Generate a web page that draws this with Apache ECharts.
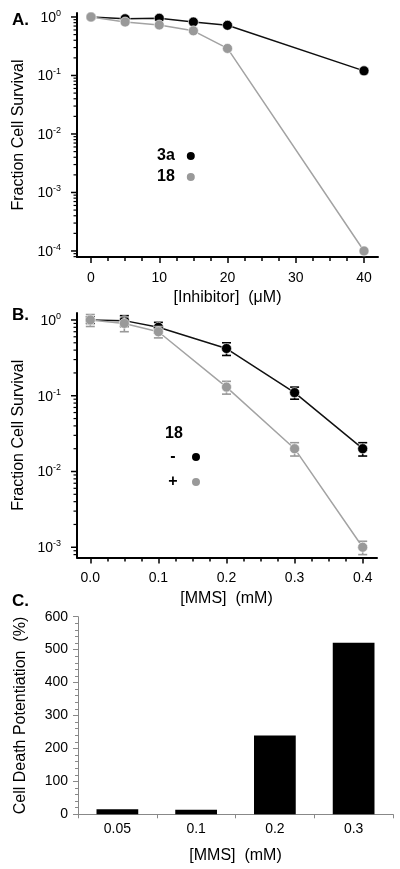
<!DOCTYPE html>
<html>
<head>
<meta charset="utf-8">
<script src="https://cdn.jsdelivr.net/npm/echarts@6/dist/echarts.min.js"></script>
<style>
html,body{margin:0;padding:0;background:#fff;}
#chart{width:400px;height:869px;}
</style>
</head>
<body>
<div id="chart"></div>
<script>
// ---------- data ----------
const inhibitorConc = [0, 5, 10, 15, 20, 40];
const survival3a   = [1.0, 0.93, 0.95, 0.82, 0.72, 0.12];
const survival18   = [1.0, 0.82, 0.73, 0.58, 0.29, 0.0001];

const mmsConc       = [0, 0.05, 0.1, 0.2, 0.3, 0.4];
const survivalMinus = [1.0, 0.98, 0.80, 0.42, 0.11, 0.020];
const errMinus      = [0.10, 0.16, 0.13, 0.08, 0.02, 0.004];
const survivalPlus  = [1.0, 0.90, 0.70, 0.13, 0.020, 0.0010];
const errPlus       = [0.18, 0.20, 0.12, 0.025, 0.004, 0.0002];

const mmsDoses      = ['0.05', '0.1', '0.2', '0.3'];
const potentiation  = [15, 14, 239, 521];

// log-axis decades (tick marks at 1..9 x 10^n)
const decadesA = [-5, -4, -3, -2, -1, 0];
const decadesB = [-4, -3, -2, -1, 0];
// axis extents (a little beyond the first/last decade, as in the figure)
const yRangeA = [Math.pow(10, -4.103), Math.pow(10, 0.068)];
const yRangeB = [Math.pow(10, -3.135), Math.pow(10, 0.092)];

// ---------- helpers ----------
const FONT = 'Liberation Sans, Arial, Helvetica, sans-serif';
const BLACK = '#000000';
const GRAY = '#999999';
const GRAY_LINE = '#a3a3a3';

function zip(xs, ys) { return xs.map((x, i) => [x, ys[i]]); }
function errRows(xs, ys, es) { return xs.map((x, i) => [x, ys[i] - es[i], ys[i] + es[i]]); }
function isPow10(v) { const e = Math.log10(v); return Math.abs(e - Math.round(e)) < 1e-6; }
function logTicks(decades, range) {
  const out = [];
  decades.forEach(d => { for (let m = 1; m <= 9; m++) { const v = m * Math.pow(10, d); if (v >= range[0] && v <= range[1]) out.push([0, v]); } });
  return out;
}

function logLabel(v) {
  if (!isPow10(v)) return '';
  const e = Math.round(Math.log10(v));
  return '{b|10}{s|' + e + '}';
}
const logRich = {
  b: { fontSize: 14, fontFamily: FONT, color: BLACK, lineHeight: 16, verticalAlign: 'bottom' },
  s: { fontSize: 9, fontFamily: FONT, color: BLACK, lineHeight: 10, verticalAlign: 'top' }
};

function tickRender(params, api) {
  const v = api.value(1);
  const p = api.coord([api.value(0), v]);
  const major = isPow10(v);
  const len = major ? 6 : 3.5;
  return { type: 'line', shape: { x1: p[0] - len, y1: p[1], x2: p[0], y2: p[1] },
           style: { stroke: BLACK, lineWidth: major ? 1.5 : 1.2 } };
}

function errRender(params, api) {
  const x = api.value(0), lo = api.value(1), hi = api.value(2);
  const t = api.coord([x, hi]);
  const b = api.coord([x, lo]);
  const hw = 4.5;
  const style = { stroke: api.visual('color'), lineWidth: 1.6 };
  return {
    type: 'group',
    children: [
      { type: 'line', shape: { x1: t[0], y1: t[1], x2: b[0], y2: b[1] }, style: style },
      { type: 'line', shape: { x1: t[0] - hw, y1: t[1], x2: t[0] + hw, y2: t[1] }, style: style },
      { type: 'line', shape: { x1: b[0] - hw, y1: b[1], x2: b[0] + hw, y2: b[1] }, style: style }
    ]
  };
}

const tickStyle = { color: BLACK, width: 1.5 };
const nameStyle = { fontSize: 16, fontFamily: FONT, color: BLACK };
const lineAx = { show: true, lineStyle: { color: BLACK, width: 2 } };

function frameX(gi) {
  return { gridIndex: gi, type: 'value', min: 0, max: 1, axisLine: lineAx,
           axisTick: { show: false }, axisLabel: { show: false }, splitLine: { show: false } };
}
function frameLogY(gi, range) {
  return {
    gridIndex: gi, type: 'log', logBase: 10, min: range[0], max: range[1],
    axisLine: lineAx, axisTick: { show: false }, minorTick: { show: false },
    axisLabel: { formatter: logLabel, rich: logRich, margin: 16, showMinLabel: true, showMaxLabel: true },
    splitLine: { show: false },
    name: 'Fraction Cell Survival', nameLocation: 'middle', nameGap: 48, nameTextStyle: nameStyle
  };
}
function hiddenLogY(gi, range) {
  return { gridIndex: gi, type: 'log', logBase: 10, min: range[0], max: range[1], show: false, splitLine: { show: false } };
}

const option = {
  animation: false,
  backgroundColor: '#fff',
  textStyle: { fontFamily: FONT },
  title: [
    { text: 'A.', left: 7, top: 7, textStyle: { fontSize: 17, fontWeight: 'bold', fontFamily: FONT, color: BLACK } },
    { text: 'B.', left: 7, top: 302, textStyle: { fontSize: 17, fontWeight: 'bold', fontFamily: FONT, color: BLACK } },
    { text: 'C.', left: 7, top: 588, textStyle: { fontSize: 17, fontWeight: 'bold', fontFamily: FONT, color: BLACK } },
    { text: '18', left: 160, top: 421, textStyle: { fontSize: 16, fontWeight: 'bold', fontFamily: FONT, color: BLACK } }
  ],
  legend: [
    {
      data: ['3a', '18'], orient: 'vertical', align: 'right', left: 152, top: 143,
      icon: 'circle', itemWidth: 10, itemHeight: 10, itemGap: 5, selectedMode: false,
      textStyle: { fontSize: 16, fontWeight: 'bold', fontFamily: FONT, color: BLACK, lineHeight: 16, padding: [0, 6, 0, 0] }
    },
    {
      data: ['-', '+'], orient: 'vertical', align: 'right', left: 161, top: 444,
      icon: 'circle', itemWidth: 10, itemHeight: 10, itemGap: 9, selectedMode: false,
      formatter: '{t|{name}}',
      textStyle: {
        fontSize: 16, fontWeight: 'bold', fontFamily: FONT, color: BLACK, lineHeight: 16,
        rich: { t: { width: 14, align: 'center', fontSize: 16, fontWeight: 'bold', fontFamily: FONT, color: BLACK, padding: [0, 6, 0, 0] } }
      }
    }
  ],
  grid: [
    { left: 77, top: 13, width: 301, height: 244 },        // 0 frame A
    { left: 91, top: 13, width: 273, height: 244 },        // 1 data A
    { left: 77, top: 313, width: 300, height: 244.5 },     // 2 frame B
    { left: 90.3, top: 313, width: 272.4, height: 244.5 }, // 3 data B
    { left: 78, top: 616.7, width: 315, height: 197.6 }    // 4 C
  ],
  xAxis: [
    frameX(0),
    {
      gridIndex: 1, type: 'value', min: 0, max: 40, interval: 10,
      axisLine: { show: false },
      axisTick: { show: true, length: 6, lineStyle: tickStyle },
      minorTick: { show: true, splitNumber: 4, length: 4, lineStyle: tickStyle },
      axisLabel: { fontSize: 14, fontFamily: FONT, color: BLACK, margin: 14 },
      splitLine: { show: false },
      name: '[Inhibitor]  (\u03bcM)', nameLocation: 'middle', nameGap: 33, nameTextStyle: nameStyle
    },
    frameX(2),
    {
      gridIndex: 3, type: 'value', min: 0, max: 0.4, interval: 0.1,
      axisLine: { show: false },
      axisTick: { show: true, length: 6, lineStyle: tickStyle },
      minorTick: { show: true, splitNumber: 4, length: 4, lineStyle: tickStyle },
      axisLabel: { fontSize: 14, fontFamily: FONT, color: BLACK, margin: 14, formatter: (v) => v.toFixed(1) },
      splitLine: { show: false },
      name: '[MMS]  (mM)', nameLocation: 'middle', nameGap: 33, nameTextStyle: nameStyle
    },
    {
      gridIndex: 4, type: 'category', data: mmsDoses,
      axisLine: { show: true, lineStyle: { color: '#888', width: 1 } },
      axisTick: { show: true, length: 4, lineStyle: { color: '#888', width: 1 } },
      axisLabel: { fontSize: 14, fontFamily: FONT, color: BLACK, margin: 8 },
      name: '[MMS]  (mM)', nameLocation: 'middle', nameGap: 33, nameTextStyle: nameStyle
    }
  ],
  yAxis: [
    frameLogY(0, yRangeA),
    hiddenLogY(1, yRangeA),
    frameLogY(2, yRangeB),
    hiddenLogY(3, yRangeB),
    {
      gridIndex: 4, type: 'value', min: 0, max: 600, interval: 100,
      axisLine: { show: true, lineStyle: { color: '#888', width: 1 } },
      axisTick: { show: true, length: 5, lineStyle: { color: '#888', width: 1 } },
      minorTick: { show: true, splitNumber: 5, length: 3, lineStyle: { color: '#888', width: 1 } },
      axisLabel: { fontSize: 14, fontFamily: FONT, color: BLACK, margin: 10 },
      splitLine: { show: false },
      name: 'Cell Death Potentiation  (%)', nameLocation: 'middle', nameGap: 49, nameTextStyle: nameStyle
    }
  ],
  series: [
    {
      name: 'ticksA', type: 'custom', xAxisIndex: 0, yAxisIndex: 0, silent: true, clip: false,
      data: logTicks(decadesA, yRangeA), encode: { x: 0, y: 1 }, renderItem: tickRender
    },
    {
      name: 'ticksB', type: 'custom', xAxisIndex: 2, yAxisIndex: 2, silent: true, clip: false,
      data: logTicks(decadesB, yRangeB), encode: { x: 0, y: 1 }, renderItem: tickRender
    },
    {
      name: '3a', type: 'line', xAxisIndex: 1, yAxisIndex: 1, data: zip(inhibitorConc, survival3a),
      symbol: 'circle', symbolSize: 10, clip: false,
      itemStyle: { color: BLACK, borderColor: '#fff', borderWidth: 0.6 },
      lineStyle: { color: '#111', width: 1.5 }
    },
    {
      name: '18', type: 'line', xAxisIndex: 1, yAxisIndex: 1, data: zip(inhibitorConc, survival18),
      symbol: 'circle', symbolSize: 10, clip: false,
      itemStyle: { color: GRAY, borderColor: '#fff', borderWidth: 0.6 },
      lineStyle: { color: GRAY_LINE, width: 1.5 }
    },
    {
      name: 'errMinus', type: 'custom', xAxisIndex: 3, yAxisIndex: 3,
      data: errRows(mmsConc, survivalMinus, errMinus), encode: { x: 0, y: [1, 2] },
      itemStyle: { color: BLACK }, renderItem: errRender, clip: false, z: 2
    },
    {
      name: '-', type: 'line', xAxisIndex: 3, yAxisIndex: 3, data: zip(mmsConc, survivalMinus),
      symbol: 'circle', symbolSize: 10, clip: false, z: 2,
      itemStyle: { color: BLACK, borderColor: '#fff', borderWidth: 0.6 },
      lineStyle: { color: '#111', width: 1.5 }
    },
    {
      name: 'errPlus', type: 'custom', xAxisIndex: 3, yAxisIndex: 3,
      data: errRows(mmsConc, survivalPlus, errPlus), encode: { x: 0, y: [1, 2] },
      itemStyle: { color: GRAY }, renderItem: errRender, clip: false, z: 3
    },
    {
      name: '+', type: 'line', xAxisIndex: 3, yAxisIndex: 3, data: zip(mmsConc, survivalPlus),
      symbol: 'circle', symbolSize: 10, clip: false, z: 3,
      itemStyle: { color: GRAY, borderColor: '#fff', borderWidth: 0.6 },
      lineStyle: { color: GRAY_LINE, width: 1.5 }
    },
    {
      name: 'potentiation', type: 'bar', xAxisIndex: 4, yAxisIndex: 4, data: potentiation,
      barWidth: '53%', itemStyle: { color: BLACK }
    }
  ]
};

const chart = echarts.init(document.getElementById('chart'), null, { renderer: 'canvas', width: 400, height: 869 });
chart.setOption(option);
</script>
</body>
</html>
